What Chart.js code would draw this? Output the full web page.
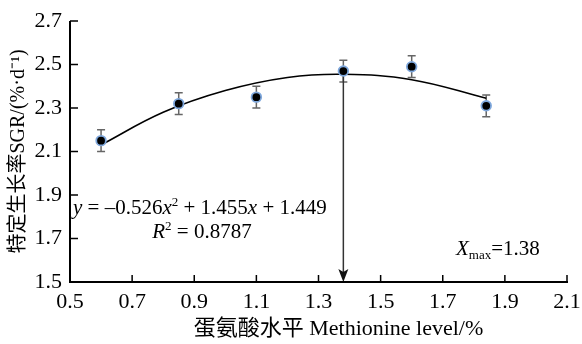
<!DOCTYPE html>
<html>
<head>
<meta charset="utf-8">
<script src="https://cdn.jsdelivr.net/npm/chart.js@4"></script>
<style>html,body{margin:0;padding:0;background:#fff}</style>
</head>
<body>
<canvas id="chart" width="582" height="344"></canvas>
<script>
// data
const levels = [0.6, 0.85, 1.1, 1.38, 1.6, 1.84];
const sgr = [2.15, 2.32, 2.35, 2.47, 2.49, 2.31];
const sgrErr = [0.05, 0.05, 0.05, 0.05, 0.05, 0.05];
const fitX = [0.6, 0.8, 1.0, 1.2, 1.38, 1.6, 1.84];
const fitY = [2.13, 2.28, 2.38, 2.44, 2.455, 2.43, 2.345];
const xTicks = [0.5, 0.7, 0.9, 1.1, 1.3, 1.5, 1.7, 1.9, 2.1];
const yTicks = [1.5, 1.7, 1.9, 2.1, 2.3, 2.5, 2.7];
const xMax = 1.38;
const xMaxY = 2.455;
const xTitle = '蛋氨酸水平 Methionine level/%';

const SERIF = '"Liberation Serif", "Noto Sans CJK SC", serif';
Chart.defaults.font.family = SERIF;
Chart.defaults.font.size = 22;
Chart.defaults.color = '#000';

// draw a line of mixed runs (italic / superscript / subscript)
function drawRuns(ctx, runs, x, y, align, size) {
    const fontFor = r => (r.i ? 'italic ' : '') + (r.sub || r.sup ? 13 : size) + 'px ' + SERIF;
    let total = 0;
    runs.forEach(r => { ctx.font = fontFor(r); total += ctx.measureText(r.t).width; });
    let cx = align === 'center' ? x - total / 2 : x;
    ctx.textBaseline = 'alphabetic';
    ctx.textAlign = 'left';
    runs.forEach(r => {
        ctx.font = fontFor(r);
        const dy = r.sup ? -8 : r.sub ? 4 : 0;
        ctx.fillText(r.t, cx, y + dy);
        cx += ctx.measureText(r.t).width;
    });
}

const overlay = {
    id: 'overlay',
    beforeDatasetsDraw(chart) {
        const { ctx, scales: { x, y } } = chart;
        ctx.save();
        ctx.strokeStyle = '#666';
        ctx.lineWidth = 1.5;
        levels.forEach((lv, i) => {
            const px = x.getPixelForValue(lv);
            const top = y.getPixelForValue(sgr[i] + sgrErr[i]);
            const bot = y.getPixelForValue(sgr[i] - sgrErr[i]);
            ctx.beginPath();
            ctx.moveTo(px, top); ctx.lineTo(px, bot);
            ctx.moveTo(px - 4, top); ctx.lineTo(px + 4, top);
            ctx.moveTo(px - 4, bot); ctx.lineTo(px + 4, bot);
            ctx.stroke();
        });
        // arrow to optimum
        const ax = x.getPixelForValue(xMax);
        const ay0 = y.getPixelForValue(xMaxY);
        const ay1 = y.getPixelForValue(1.5);
        ctx.strokeStyle = '#333';
        ctx.fillStyle = '#111';
        ctx.beginPath();
        ctx.moveTo(ax, ay0); ctx.lineTo(ax, ay1 - 10);
        ctx.stroke();
        ctx.beginPath();
        ctx.moveTo(ax, ay1);
        ctx.lineTo(ax - 5, ay1 - 13);
        ctx.lineTo(ax, ay1 - 10);
        ctx.lineTo(ax + 5, ay1 - 13);
        ctx.closePath();
        ctx.fill();
        ctx.restore();
    },
    afterDraw(chart) {
        const { ctx, chartArea: a, scales: { x, y } } = chart;
        ctx.save();
        // axes with inward ticks
        ctx.strokeStyle = '#000';
        ctx.lineWidth = 2;
        ctx.beginPath();
        ctx.moveTo(a.left, a.top); ctx.lineTo(a.left, a.bottom); ctx.lineTo(a.right + 1, a.bottom);
        ctx.stroke();
        ctx.lineWidth = 1.5;
        ctx.beginPath();
        yTicks.forEach(v => {
            const py = y.getPixelForValue(v);
            ctx.moveTo(a.left, py); ctx.lineTo(a.left + 8, py);
        });
        xTicks.forEach(v => {
            const px = x.getPixelForValue(v);
            ctx.moveTo(px, a.bottom); ctx.lineTo(px, a.bottom - 7);
        });
        ctx.stroke();

        ctx.fillStyle = '#000';
        // x-axis title, set a little right of the axis centre as in the figure
        ctx.font = '22px ' + SERIF;
        ctx.textAlign = 'center';
        ctx.textBaseline = 'middle';
        ctx.fillText(xTitle, (a.left + a.right) / 2 + 20, 329);

        drawRuns(ctx, [
            { t: 'y', i: true }, { t: ' = –0.526' }, { t: 'x', i: true }, { t: '2', sup: true },
            { t: ' + 1.455' }, { t: 'x', i: true }, { t: ' + 1.449' }
        ], 73, 214, 'left', 21);
        drawRuns(ctx, [
            { t: 'R', i: true }, { t: '2', sup: true }, { t: ' = 0.8787' }
        ], 202, 238, 'center', 21);
        drawRuns(ctx, [
            { t: 'X', i: true }, { t: 'max', sub: true }, { t: '=1.38' }
        ], 456, 255, 'left', 21);
        ctx.restore();
    }
};

new Chart(document.getElementById('chart'), {
    type: 'scatter',
    data: {
        datasets: [{
            data: levels.map((lv, i) => ({ x: lv, y: sgr[i] })),
            backgroundColor: '#000',
            borderColor: '#7ea7dc',
            borderWidth: 1.8,
            pointRadius: 4.8,
            order: 0
        }, {
            type: 'line',
            data: fitX.map((v, i) => ({ x: v, y: fitY[i] })),
            borderColor: '#000',
            borderWidth: 1.6,
            pointRadius: 0,
            tension: 0.4,
            fill: false,
            order: 1
        }]
    },
    options: {
        responsive: false,
        animation: false,
        events: [],
        layout: { padding: { top: 21, right: 15 } },
        plugins: { legend: { display: false }, tooltip: { enabled: false } },
        scales: {
            x: {
                type: 'linear',
                min: 0.5, max: 2.1,
                afterBuildTicks: s => { s.ticks = xTicks.map(v => ({ value: v })); },
                afterFit: s => { s.height = 62; s.paddingRight = 0; s.paddingLeft = 0; },
                grid: { display: false, drawTicks: false },
                border: { display: false },
                ticks: { padding: 7, callback: v => v.toFixed(1) }
            },
            y: {
                min: 1.5, max: 2.7,
                afterBuildTicks: s => { s.ticks = yTicks.map(v => ({ value: v })); },
                afterFit: s => { s.width = 70; s.paddingTop = 0; s.paddingBottom = 0; },
                grid: { display: false, drawTicks: false },
                border: { display: false },
                ticks: { padding: 8, callback: v => v.toFixed(1) },
                title: {
                    display: true,
                    text: '特定生长率SGR/(%·d⁻¹)',
                    font: { size: 20 },
                    padding: { top: 7, bottom: 0 }
                }
            }
        }
    },
    plugins: [overlay]
});
</script>
</body>
</html>
